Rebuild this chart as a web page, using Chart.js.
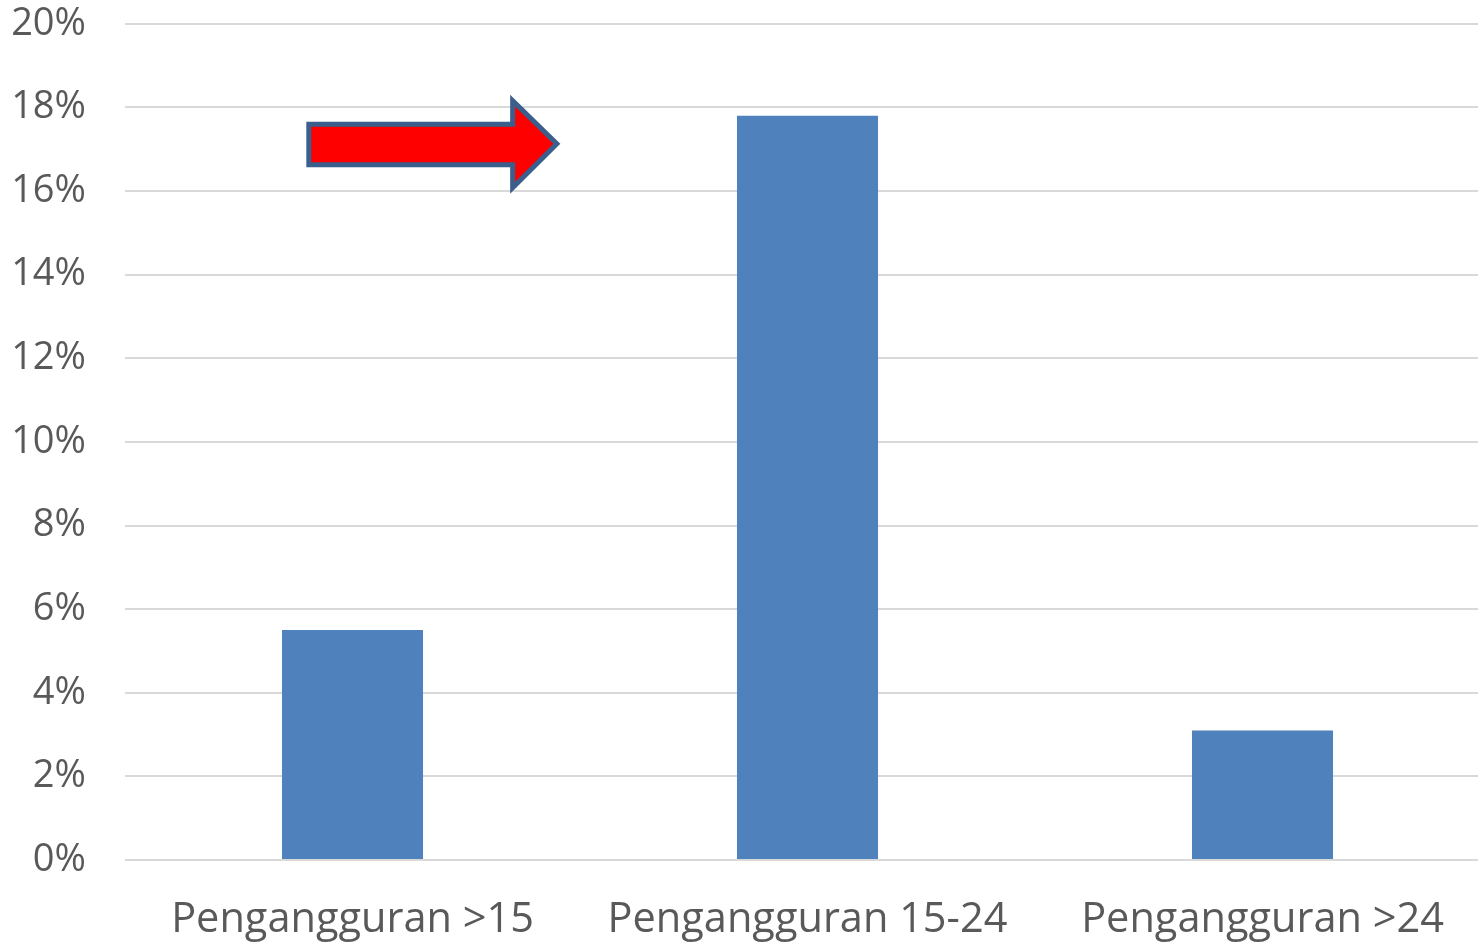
<!DOCTYPE html>
<html>
<head>
<meta charset="utf-8">
<script src="https://cdn.jsdelivr.net/npm/chart.js@4"></script>
<style>
  html, body { margin: 0; padding: 0; background: #ffffff; overflow: hidden; }
  #wrap { width: 1490px; height: 987px; margin-top: -38px; }
</style>
</head>
<body>
<div id="wrap"><canvas id="chart"></canvas></div>
<script>
// data
const categories = ['Pengangguran >15', 'Pengangguran 15-24', 'Pengangguran >24'];
const rates = [5.5, 17.8, 3.1];
const yTicks = [0, 2, 4, 6, 8, 10, 12, 14, 16, 18, 20];

// arrow annotation, in category / percent units
const arrowX = [-0.096, 0.352, 0.449];    // tail, head base, tip
const arrowY = [17.6, 16.63, 18.16, 16.08, 17.13]; // body top, body bottom, head top, head bottom, tip

const arrowPlugin = {
    id: 'arrow',
    afterDatasetsDraw(chart) {
        const { ctx, scales } = chart;
        const x0 = scales.x.getPixelForValue(0);
        const unit = scales.x.getPixelForValue(1) - x0;
        const px = v => x0 + v * unit;
        const py = v => scales.y.getPixelForValue(v);
        ctx.save();
        ctx.beginPath();
        ctx.moveTo(px(arrowX[0]), py(arrowY[0]));
        ctx.lineTo(px(arrowX[1]), py(arrowY[0]));
        ctx.lineTo(px(arrowX[1]), py(arrowY[2]));
        ctx.lineTo(px(arrowX[2]), py(arrowY[4]));
        ctx.lineTo(px(arrowX[1]), py(arrowY[3]));
        ctx.lineTo(px(arrowX[1]), py(arrowY[1]));
        ctx.lineTo(px(arrowX[0]), py(arrowY[1]));
        ctx.closePath();
        ctx.fillStyle = '#ff0000';
        ctx.fill();
        ctx.lineWidth = 5;
        ctx.lineJoin = 'miter';
        ctx.strokeStyle = '#3a5f8c';
        ctx.stroke();
        ctx.restore();
    }
};

new Chart(document.getElementById('chart'), {
    type: 'bar',
    data: {
        labels: categories,
        datasets: [{
            data: rates,
            backgroundColor: '#4f81bd',
            borderWidth: 0,
            barPercentage: 1,
            categoryPercentage: 0.31
        }]
    },
    options: {
        responsive: true,
        maintainAspectRatio: false,
        animation: false,
        plugins: {
            legend: { display: false },
            tooltip: { enabled: false }
        },
        scales: {
            x: {
                afterFit(axis) { axis.height = 89; },
                grid: { display: false },
                border: { display: false },
                ticks: {
                    color: '#595959',
                    font: { family: 'Open Sans', size: 41.5 },
                    padding: 27,
                    maxRotation: 0
                }
            },
            y: {
                min: 0,
                max: 20,
                afterBuildTicks(axis) {
                    axis.ticks = yTicks.map(v => ({ value: v }));
                },
                afterFit(axis) { axis.width = 125; },
                grid: { color: '#d9d9d9', lineWidth: 2, drawTicks: false },
                border: { display: false },
                ticks: {
                    color: '#595959',
                    font: { family: 'Open Sans', size: 38 },
                    padding: 39,
                    callback: v => v + '%'
                }
            }
        }
    },
    plugins: [arrowPlugin]
});
</script>
</body>
</html>
